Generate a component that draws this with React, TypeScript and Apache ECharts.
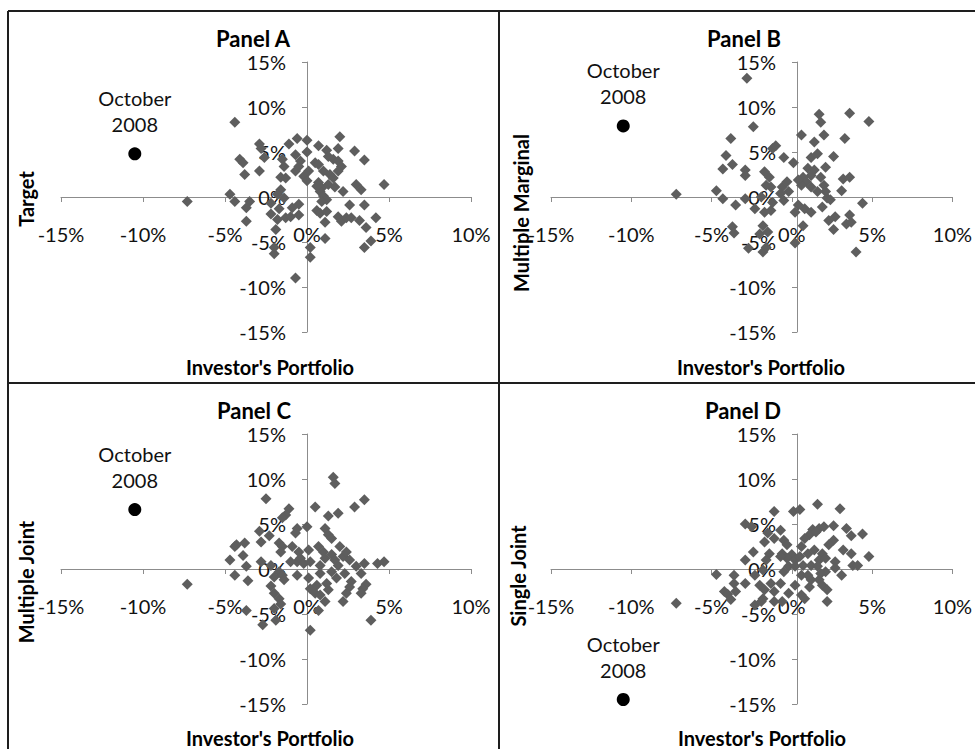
import { useEffect, useRef } from 'react';
import * as echarts from 'echarts';

const PANEL_TITLES = ['Panel A', 'Panel B', 'Panel C', 'Panel D'];
const Y_TITLES = ['Target', 'Multiple Marginal', 'Multiple Joint', 'Single Joint'];
const X_TITLE = "Investor's Portfolio";
const EVENT_LABEL = 'October\n2008';

const X_MIN = -15;
const X_MAX = 10;
const Y_MIN = -15;
const Y_MAX = 15;
const STEP = 5;

// monthly returns in percent: [investor's portfolio, hedge]
const panelA = [
  [-4.4, 8.3], [-7.3, -0.5], [-0.6, 6.5], [0.0, 6.3], [-1.1, 5.9], [-2.9, 5.9], [-2.8, 5.4], [0.7, 5.7],
  [2.0, 6.7], [1.9, 5.4], [2.9, 5.1], [3.5, 4.1], [1.2, 5.2], [0.0, 5.0], [-0.7, 4.7], [-4.1, 4.2],
  [-3.9, 3.8], [-2.6, 4.4], [-1.5, 4.2], [-1.4, 3.4], [-0.4, 4.0], [-0.5, 3.4], [-0.7, 2.9], [0.5, 3.8],
  [0.7, 3.6], [1.3, 4.5], [1.6, 4.2], [1.9, 4.0], [2.1, 3.4], [1.9, 2.9], [1.4, 2.5], [1.0, 2.9],
  [0.1, 2.9], [-3.8, 2.5], [-2.9, 2.9], [-1.6, 2.2], [-1.3, 2.1], [-0.2, 2.3], [0.0, 1.8], [0.7, 1.6],
  [0.9, 1.0], [1.3, 1.4], [1.7, 1.1], [2.2, 0.6], [3.0, 1.4], [3.3, 0.8], [4.7, 1.4], [-1.6, 0.8],
  [-1.8, 0.3], [-4.7, 0.3], [-4.4, -0.5], [-3.5, -0.5], [-3.7, -1.2], [-2.2, -0.7], [0.8, 0.6], [1.0, 0.1],
  [1.2, -0.3], [0.9, -0.5], [-0.5, -0.8], [-0.9, -1.2], [-1.7, -1.3], [-2.2, -1.9], [-1.8, -2.5], [-1.3, -2.3],
  [-1.0, -2.2], [-0.5, -2.0], [-3.7, -2.7], [0.6, -1.5], [0.8, -1.8], [1.2, -1.6], [1.1, -2.8], [1.9, -2.2],
  [2.1, -2.7], [2.4, -2.3], [2.7, -2.3], [3.2, -2.6], [2.6, -0.9], [3.5, -0.9], [4.2, -2.3], [3.6, -3.4],
  [-1.9, -3.6], [1.1, -4.6], [3.9, -4.9], [3.5, -5.6], [-2.0, -5.6], [-2.0, -6.3], [0.2, -5.6], [0.2, -6.7],
  [-0.7, -9.0], [1.6, 2.1], [0.6, 1.2], [-1.4, -0.1],
];

const panelB = [
  [-2.8, 13.2], [-2.4, 7.8], [-3.8, 6.5], [-4.1, 4.6], [-3.7, 3.6], [-4.3, 3.1], [-2.9, 3.0], [-2.9, 2.4],
  [-1.7, 2.8], [-1.4, 2.2], [-1.2, 5.4], [-1.0, 5.7], [-0.5, 4.4], [0.1, 3.8], [0.6, 6.9], [1.4, 6.1],
  [1.7, 9.2], [1.8, 8.3], [2.0, 6.9], [3.6, 9.3], [4.8, 8.4], [3.3, 6.5], [2.6, 4.5], [1.6, 4.8],
  [1.2, 4.4], [2.1, 3.3], [1.0, 3.2], [1.4, 3.0], [1.2, 2.4], [0.7, 2.2], [0.9, 1.7], [0.6, 1.3],
  [1.8, 2.2], [2.0, 1.3], [3.2, 2.0], [3.6, 2.2], [3.1, 0.7], [2.2, -0.1], [2.4, -0.3], [1.9, -1.1],
  [4.4, -0.7], [3.6, -2.0], [2.7, -2.2], [2.3, -2.6], [2.6, -3.6], [3.4, -3.0], [3.7, -2.8], [4.0, -6.1],
  [1.2, -1.7], [0.8, -1.3], [0.4, -0.9], [0.2, -1.7], [0.7, -3.2], [0.2, -5.1], [-0.2, 0.6], [-0.6, 1.1],
  [-0.7, 0.4], [-0.5, -0.4], [-1.3, 1.1], [-1.6, 1.3], [-1.9, 0.0], [-2.3, -1.3], [-1.7, -1.7], [-1.3, -1.5],
  [-2.9, -0.2], [-3.5, -0.9], [-4.3, -0.2], [-4.7, 0.7], [-7.2, 0.3], [-3.7, -3.3], [-3.6, -4.0], [-1.8, -3.2],
  [-2.0, -4.1], [-1.5, -3.9], [-1.8, -6.1], [-1.6, -5.6], [-2.7, -5.7], [1.2, 1.1], [0.4, 1.9], [-0.3, 1.7],
  [2.1, 0.6], [-1.2, -0.6], [1.6, 0.6],
];

const panelC = [
  [1.6, 10.2], [1.7, 9.5], [-2.5, 7.8], [3.5, 7.7], [2.9, 6.9], [0.5, 6.9], [-1.1, 6.7], [-1.3, 6.0],
  [-1.5, 5.7], [1.9, 6.2], [1.3, 5.9], [0.0, 4.7], [-0.6, 4.5], [-0.7, 4.0], [1.1, 4.5], [1.3, 3.8],
  [1.5, 3.4], [-2.9, 4.2], [-2.3, 3.7], [-1.7, 2.9], [-1.5, 2.5], [-1.6, 1.9], [-2.8, 3.0], [-3.8, 2.9],
  [-4.3, 2.7], [-4.4, 2.5], [-3.9, 1.5], [-4.7, 1.0], [-4.4, -0.7], [-3.7, 0.3], [-3.6, -1.3], [-7.3, -1.7],
  [-2.8, 0.8], [-2.2, 0.4], [-0.9, 2.5], [-0.5, 1.9], [-0.6, 0.8], [-0.4, 1.2], [-0.2, 0.6], [0.1, 2.1],
  [0.7, 2.5], [1.0, 1.9], [1.1, 1.2], [0.8, 0.4], [1.5, 1.6], [1.7, 1.0], [2.0, 2.5], [2.2, 1.4],
  [1.9, 0.4], [2.4, 1.9], [2.6, 1.0], [3.5, 0.6], [4.3, 0.6], [4.7, 0.8], [3.0, 0.3], [-1.7, -0.3],
  [-1.5, -0.7], [-2.0, -0.9], [-1.4, -1.2], [-2.2, -1.9], [-2.0, -2.7], [-1.7, -3.3], [-1.6, -3.9], [-2.0, -4.4],
  [-1.9, -5.7], [-2.7, -6.2], [-3.7, -4.6], [-0.6, -0.7], [0.1, -1.0], [0.6, -1.8], [0.2, -2.2], [0.5, -2.7],
  [0.8, -2.9], [1.3, -2.3], [1.2, -1.6], [1.8, -1.0], [2.3, -0.5], [2.7, -1.4], [2.6, -2.0], [3.3, -0.5],
  [3.6, -1.7], [3.4, -2.2], [3.3, -2.7], [2.4, -2.7], [2.2, -3.6], [1.1, -3.6], [0.7, -4.6], [3.9, -5.7],
  [0.2, -6.8], [0.8, -0.5], [1.5, -0.3], [-1.0, 0.8], [0.2, 0.8],
];

const panelD = [
  [1.6, 7.2], [3.0, 6.7], [-1.1, 6.4], [0.1, 6.4], [0.5, 6.6], [-2.9, 5.0], [-2.5, 4.7], [-0.7, 4.3],
  [1.3, 4.4], [1.7, 4.5], [2.0, 4.7], [2.6, 4.8], [3.4, 4.5], [3.7, 3.7], [4.4, 3.9], [1.1, 3.8],
  [1.5, 4.1], [2.6, 3.2], [2.3, 2.7], [0.8, 3.4], [0.6, 2.5], [-1.5, 4.0], [-1.1, 3.4], [-0.5, 3.2],
  [-0.3, 2.7], [-1.7, 3.0], [-2.4, 1.9], [-1.4, 1.7], [-0.6, 1.7], [0.0, 1.6], [-0.3, 1.2], [-0.7, 1.4],
  [0.2, 1.0], [0.5, 1.4], [1.0, 1.7], [1.4, 2.1], [1.9, 1.7], [1.7, 1.0], [2.1, 1.2], [2.7, 0.8],
  [3.2, 2.1], [3.7, 1.7], [3.8, 0.4], [4.1, 0.4], [4.8, 1.4], [-2.9, 1.0], [-1.6, 1.0], [-1.8, -0.1],
  [-2.3, -0.7], [-2.9, -1.6], [-3.6, -0.7], [-3.6, -1.6], [-4.7, -0.6], [-4.2, -2.5], [-4.0, -2.8], [-3.5, -2.5],
  [-3.8, -3.4], [-7.2, -3.8], [-2.0, -1.8], [-1.7, -2.3], [-1.3, -1.6], [-0.7, -1.6], [-1.1, -2.5], [-1.8, -3.3],
  [-2.3, -4.0], [-1.9, -3.6], [-1.1, -3.6], [-0.6, -3.6], [-0.2, -2.7], [0.2, -1.8], [0.6, -0.7], [1.0, -0.7],
  [1.2, -1.2], [1.1, -2.0], [0.6, -2.9], [0.8, -3.3], [1.7, -1.2], [1.9, -1.8], [2.2, -2.3], [2.1, -0.3],
  [2.7, 0.1], [3.1, -0.7], [2.2, -3.6], [-0.2, 0.3], [0.2, 0.3], [0.7, 0.4], [1.2, 0.4], [1.6, 0.3],
  [1.8, -0.5], [-0.5, -0.3],
];

// the October 2008 outlier in each panel
const october2008 = [[-10.5, 4.8], [-10.5, 7.9], [-10.5, 6.6], [-10.5, -14.5]];

const PANELS = [panelA, panelB, panelC, panelD];

// layout (pixels)
const GRID_POS = [[61, 62], [551, 62], [61, 434], [551, 434]];
const GRID_W = 410;
const GRID_H = 270;
const TITLE_POS = [[253, 38], [744, 38], [254, 410], [743, 410]];
const Y_TITLE_POS = [[26, 199], [521, 213], [26, 582], [518, 576]];
const X_TITLE_POS = [[270, 367], [761, 367], [270, 738], [762, 738]];

const FONT = 'Lato, "Open Sans", sans-serif';
const TEXT = '#111';
const AXIS = '#8c8c8c';
const MARKER = '#5e5e5e';

export default function App() {
  const chartRef = useRef<HTMLDivElement>(null);

  useEffect(() => {
    if (!chartRef.current) return;
    const chart = echarts.init(chartRef.current, null, { renderer: 'svg' });

    const pct = (v: number) => `${v}%`;

    // axes cross at the origin: shift them in from the grid edges
    const xShift = ((0 - X_MIN) / (X_MAX - X_MIN)) * GRID_W;
    const yShift = ((0 - Y_MIN) / (Y_MAX - Y_MIN)) * GRID_H;

    const axisCommon = {
      type: 'value' as const,
      interval: STEP,
      splitLine: { show: false },
      axisLine: { show: true, onZero: false, lineStyle: { color: AXIS, width: 1 } },
      axisTick: { show: true, length: 5, lineStyle: { color: AXIS } },
    };

    const xAxis = PANELS.map((_, i) => ({
      ...axisCommon,
      gridIndex: i,
      position: 'bottom',
      offset: -yShift,
      min: X_MIN,
      max: X_MAX,
      axisLabel: {
        formatter: pct,
        margin: 27,
        fontSize: 20,
        fontFamily: FONT,
        color: TEXT,
        showMinLabel: true,
        showMaxLabel: true,
      },
    }));

    const yAxis = PANELS.map((_, i) => ({
      ...axisCommon,
      gridIndex: i,
      position: 'left',
      offset: -xShift,
      min: Y_MIN,
      max: Y_MAX,
      axisLabel: {
        formatter: pct,
        margin: 21,
        fontSize: 20,
        fontFamily: FONT,
        color: TEXT,
        showMinLabel: true,
        showMaxLabel: true,
      },
    }));

    const series: any[] = [];
    PANELS.forEach((pts, i) => {
      series.push({
        type: 'scatter',
        xAxisIndex: i,
        yAxisIndex: i,
        data: pts,
        symbol: 'diamond',
        symbolSize: 11,
        itemStyle: { color: MARKER, opacity: 1 },
      });
      series.push({
        type: 'scatter',
        xAxisIndex: i,
        yAxisIndex: i,
        data: [october2008[i]],
        symbol: 'circle',
        symbolSize: 13,
        itemStyle: { color: '#000', opacity: 1 },
        label: {
          show: true,
          position: 'top',
          distance: 10,
          formatter: EVENT_LABEL,
          fontSize: 20,
          lineHeight: 26,
          fontFamily: FONT,
          color: TEXT,
          align: 'center',
        },
      });
    });

    const textStyle = (text: string, size: number, bold: boolean) => ({
      text,
      fill: '#000',
      font: `${bold ? 'bold ' : ''}${size}px ${FONT}`,
      align: 'center',
      verticalAlign: 'middle',
    });

    const graphic: any[] = [];
    PANELS.forEach((_, i) => {
      graphic.push({
        type: 'text',
        x: TITLE_POS[i][0],
        y: TITLE_POS[i][1],
        style: textStyle(PANEL_TITLES[i], 22, true),
      });
      graphic.push({
        type: 'text',
        x: X_TITLE_POS[i][0],
        y: X_TITLE_POS[i][1],
        style: textStyle(X_TITLE, 20, true),
      });
      graphic.push({
        type: 'text',
        x: Y_TITLE_POS[i][0],
        y: Y_TITLE_POS[i][1],
        rotation: Math.PI / 2,
        style: textStyle(Y_TITLES[i], 20, true),
      });
    });

    const border = { stroke: '#1e1e1e', lineWidth: 2 };
    graphic.push(
      { type: 'line', shape: { x1: 8, y1: 11, x2: 975, y2: 11 }, style: border },
      { type: 'line', shape: { x1: 8, y1: 11, x2: 8, y2: 749 }, style: border },
      { type: 'line', shape: { x1: 499, y1: 11, x2: 499, y2: 749 }, style: border },
      { type: 'line', shape: { x1: 8, y1: 383, x2: 975, y2: 383 }, style: border },
    );

    chart.setOption({
      animation: false,
      backgroundColor: '#fff',
      grid: GRID_POS.map(([left, top]) => ({ left, top, width: GRID_W, height: GRID_H })),
      xAxis,
      yAxis,
      series,
      graphic,
    });

    return () => {
      chart.dispose();
    };
  }, []);

  return (
    <div
      ref={chartRef}
      style={{ position: 'fixed', left: 0, top: 0, width: '975px', height: '749px' }}
    />
  );
}
